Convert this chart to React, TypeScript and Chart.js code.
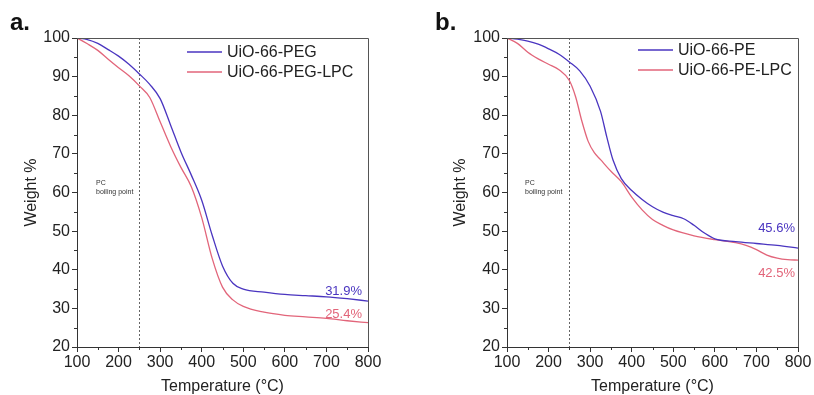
import React, { useEffect, useRef } from "react";
import { Chart, registerables } from "chart.js";
Chart.register(...registerables);

// ---------- data ----------
const tempPEG = [100,125,150,175,200,225,250,275,300,325,350,375,400,425,450,475,500,550,600,650,700,750,800];
const weightPEG = [100,99.6,98.6,97.0,95.3,93.2,90.7,88.0,84.3,77.5,70.5,64.5,58,49,41,36.5,35.0,34.2,33.6,33.3,33.0,32.5,31.9];
const tempPEGLPC = [100,125,150,175,200,225,250,275,300,325,350,375,400,425,450,475,500,550,600,650,700,750,800];
const weightPEGLPC = [100,98.5,96.8,94.5,92.3,90.2,87.6,84.6,78.3,72,66.5,61.5,53.5,43,35.5,32.2,30.5,29,28.2,27.8,27.4,26.8,26.3];
const tempPE = [100,125,150,175,200,225,250,275,300,325,340,355,375,400,425,450,475,500,525,550,575,600,650,700,750,800];
const weightPE = [100,99.7,99.2,98.4,97.2,95.8,93.8,91.5,87.5,81,74.4,68.4,63.6,60.5,58.2,56.3,54.9,54,53.2,51.5,49.5,48,47.3,46.8,46.3,45.6];
const tempPELPC = [100,125,150,175,200,225,250,265,280,295,310,325,350,375,400,425,450,475,500,550,600,650,675,700,725,750,775,800];
const weightPELPC = [100,98.6,96.3,94.6,93.2,91.8,89.0,84.8,78.5,73.3,70.3,68.5,65.5,62.8,58.8,55.5,53,51.5,50.3,48.8,47.8,47.0,46.3,45.2,43.8,43.0,42.6,42.5];
const xTicks = [100,200,300,400,500,600,700,800];
const yTicks = [20,30,40,50,60,70,80,90,100];
const boilingPoint = 250;
const panelA = { letter: "a.", names: ["UiO-66-PEG", "UiO-66-PEG-LPC"], residues: ["31.9%", "25.4%"] };
const panelB = { letter: "b.", names: ["UiO-66-PE", "UiO-66-PE-LPC"], residues: ["45.6%", "42.5%"] };

const PURPLE = "#4a35c0";
const RED = "#e2657a";
const FONT = "Arial, 'Liberation Sans', sans-serif";

const toXY = (t: number[], w: number[]) => t.map((x, i) => ({ x, y: w[i] }));

type PanelProps = {
  left: number;
  width: number;
  axisLeft: number;
  padRight: number;
  series: { t: number[]; w: number[] }[];
  info: { letter: string; names: string[]; residues: string[] };
  ann: any;
};

function Panel(p: PanelProps) {
  const ref = useRef<HTMLCanvasElement>(null);
  useEffect(() => {
    const ann = p.ann;
    const plugin = {
      id: "deco",
      beforeDatasetsDraw(chart: any) {
        const ctx = chart.ctx;
        const { top, bottom } = chart.chartArea;
        const x = chart.scales.x.getPixelForValue(boilingPoint);
        ctx.save();
        ctx.strokeStyle = "#666";
        ctx.lineWidth = 1;
        ctx.setLineDash([2, 2]);
        ctx.beginPath();
        ctx.moveTo(Math.round(x) + 0.5, top);
        ctx.lineTo(Math.round(x) + 0.5, bottom);
        ctx.stroke();
        ctx.restore();
      },
      afterDraw(chart: any) {
        const ctx = chart.ctx;
        const { left, right, top, bottom } = chart.chartArea;
        const xs = chart.scales.x;
        const ys = chart.scales.y;
        ctx.save();
        // frame top/right
        ctx.strokeStyle = "#555";
        ctx.lineWidth = 1;
        ctx.beginPath();
        ctx.moveTo(left, top + 0.5);
        ctx.lineTo(right + 0.5, top + 0.5);
        ctx.lineTo(right + 0.5, bottom);
        ctx.stroke();
        // minor ticks
        ctx.strokeStyle = "#333";
        ctx.beginPath();
        for (let v = 150; v < 800; v += 100) {
          const px = Math.round(xs.getPixelForValue(v)) + 0.5;
          ctx.moveTo(px, bottom);
          ctx.lineTo(px, bottom + 3);
        }
        for (let v = 25; v < 100; v += 10) {
          const py = Math.round(ys.getPixelForValue(v)) + 0.5;
          ctx.moveTo(left, py);
          ctx.lineTo(left - 3, py);
        }
        ctx.stroke();
        // panel letter
        ctx.fillStyle = "#111";
        ctx.font = `bold 24px ${FONT}`;
        ctx.textBaseline = "alphabetic";
        ctx.textAlign = "left";
        ctx.fillText(p.info.letter, ann.letterX, 30);
        // axis titles
        ctx.font = `16px ${FONT}`;
        ctx.fillStyle = "#222";
        ctx.textAlign = "center";
        ctx.textBaseline = "middle";
        ctx.fillText("Temperature (°C)", (left + right) / 2, 387);
        ctx.save();
        ctx.translate(ann.yTitleX, (top + bottom) / 2);
        ctx.rotate(-Math.PI / 2);
        ctx.fillText("Weight %", 0, 0);
        ctx.restore();
        // PC boiling point
        ctx.font = `7px ${FONT}`;
        ctx.fillStyle = "#333";
        ctx.textAlign = "left";
        ctx.textBaseline = "alphabetic";
        ctx.fillText("PC", ann.pcX, 185);
        ctx.fillText("boiling point", ann.pcX, 194);
        // legend
        const colors = [PURPLE, RED];
        ctx.font = `16px ${FONT}`;
        ctx.textBaseline = "middle";
        for (let i = 0; i < 2; i++) {
          const y = ann.legY[i];
          ctx.strokeStyle = colors[i];
          ctx.lineWidth = 1.3;
          ctx.beginPath();
          ctx.moveTo(ann.legX, y);
          ctx.lineTo(ann.legX + 35, y);
          ctx.stroke();
          ctx.fillStyle = "#222";
          ctx.fillText(p.info.names[i], ann.legX + 40, y + 1);
        }
        // residues
        ctx.font = `13px ${FONT}`;
        ctx.textAlign = "right";
        ctx.textBaseline = "alphabetic";
        for (let i = 0; i < 2; i++) {
          ctx.fillStyle = colors[i];
          ctx.fillText(p.info.residues[i], ann.resX, ann.resY[i]);
        }
        ctx.restore();
      },
    };
    const chart = new Chart(ref.current!, {
      type: "line",
      data: {
        datasets: p.series.map((s, i) => ({
          data: toXY(s.t, s.w),
          borderColor: i === 0 ? PURPLE : RED,
          borderWidth: 1.3,
          pointRadius: 0,
          fill: false,
          cubicInterpolationMode: "monotone" as const,
        })),
      },
      options: {
        animation: false,
        responsive: false,
        maintainAspectRatio: false,
        layout: { padding: { left: 0, right: p.padRight, top: 38, bottom: 0 } },
        plugins: { legend: { display: false }, tooltip: { enabled: false } },
        scales: {
          x: {
            type: "linear",
            min: 100,
            max: 800,
            afterBuildTicks: (s: any) => { s.ticks = xTicks.map((v) => ({ value: v })); },
            ticks: { font: { size: 16, family: FONT }, color: "#222", padding: 1, maxRotation: 0 },
            grid: { display: true, drawOnChartArea: false, tickLength: 5, tickColor: "#333" },
            border: { display: true, color: "#333", width: 1 },
            afterFit: (s: any) => { s.height = 48; },
          },
          y: {
            type: "linear",
            min: 20,
            max: 100,
            afterBuildTicks: (s: any) => { s.ticks = yTicks.map((v) => ({ value: v })); },
            ticks: { font: { size: 16, family: FONT }, color: "#222", padding: 2 },
            grid: { display: true, drawOnChartArea: false, tickLength: 5, tickColor: "#333" },
            border: { display: true, color: "#333", width: 1 },
            afterFit: (s: any) => { s.width = p.axisLeft; },
          },
        },
      },
      plugins: [plugin],
    });
    return () => chart.destroy();
  }, []);
  return (
    <canvas
      ref={ref}
      width={p.width}
      height={395}
      style={{ position: "absolute", left: p.left, top: 0, width: p.width, height: 395 }}
    />
  );
}

export default function App() {
  return (
    <div style={{ position: "fixed", left: 0, top: 0, width: 814, height: 395, background: "#fff", overflow: "hidden" }}>
      <Panel
        left={0}
        width={407}
        axisLeft={77}
        padRight={39}
        series={[{ t: tempPEG, w: weightPEG }, { t: tempPEGLPC, w: weightPEGLPC }]}
        info={panelA}
        ann={{ letterX: 10, yTitleX: 32, pcX: 96, legX: 187, legY: [52, 72], resX: 362, resY: [295, 318] }}
      />
      <Panel
        left={407}
        width={407}
        axisLeft={100}
        padRight={16}
        series={[{ t: tempPE, w: weightPE }, { t: tempPELPC, w: weightPELPC }]}
        info={panelB}
        ann={{ letterX: 28, yTitleX: 54, pcX: 118, legX: 231, legY: [50, 70], resX: 388, resY: [232, 277] }}
      />
    </div>
  );
}
